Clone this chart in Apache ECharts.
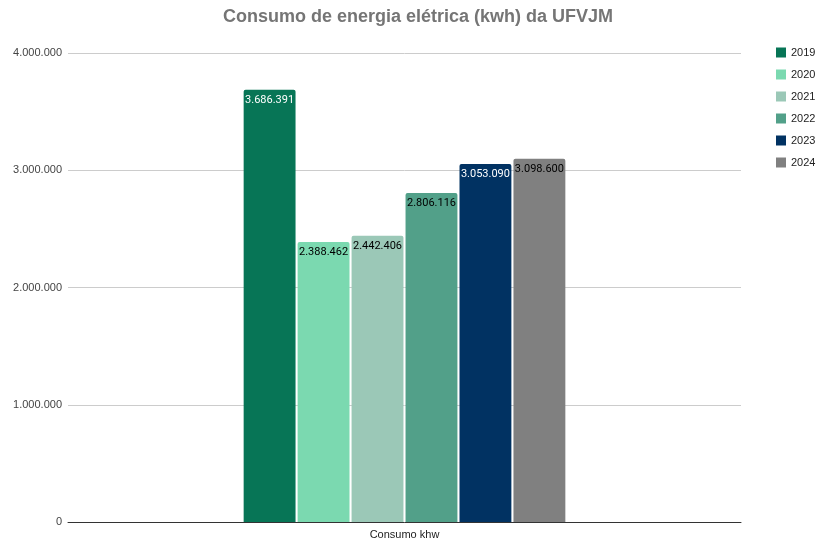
<!DOCTYPE html>
<html><head><meta charset="utf-8">
<script src="https://cdn.jsdelivr.net/npm/echarts@6/dist/echarts.min.js"></script>
<style>html,body{margin:0;padding:0;background:#fff}#c{width:818px;height:541px}</style>
</head><body><div id="c"></div>
<script>
var categories = ['Consumo khw'];
var years = ['2019','2020','2021','2022','2023','2024'];
var values = [3686391, 2388462, 2442406, 2806116, 3053090, 3098600];
var colors = ['#077556','#7bd9b0','#9bc8b7','#52a089','#013262','#808080'];
var labelColors = ['#ffffff','#000000','#000000','#000000','#ffffff','#000000'];
var yTicks = [0, 1000000, 2000000, 3000000, 4000000];

function fmt(v){ return String(Math.round(v)).replace(/\B(?=(\d{3})+(?!\d))/g, '.'); }

var chart = echarts.init(document.getElementById('c'), null, {renderer:'canvas'});
var series = years.map(function(y, i){
  return {
    name: y, type: 'bar', data: [values[i]],
    barGap: '4%', barCategoryGap: '52.2%',
    itemStyle: {color: colors[i], borderRadius: [2,2,0,0]},
    label: {show: true, position: 'insideTop', distance: 5, color: labelColors[i],
      fontFamily: 'Roboto', fontSize: 11, formatter: function(p){ return fmt(p.value); }}
  };
});
chart.setOption({
  animation: false,
  title: {text: 'Consumo de energia elétrica (kwh) da UFVJM', left: 218, top: 3,
    textStyle: {fontFamily: 'Liberation Sans, Arial', fontSize: 18, fontWeight: 'bold', color: '#757575'}},
  legend: {orient: 'vertical', left: 771, top: 42, itemWidth: 10, itemHeight: 10, itemGap: 11,
    icon: 'rect', textStyle: {fontFamily: 'Liberation Sans, Arial', fontSize: 11, color: '#222'}},
  grid: {left: 68, right: 77, top: 53, bottom: 19},
  xAxis: {type: 'category', data: categories,
    axisLine: {lineStyle: {color: '#333', width: 1}}, axisTick: {show: false},
    axisLabel: {fontFamily: 'Liberation Sans, Arial', fontSize: 11, color: '#222', margin: 7}},
  yAxis: {type: 'value', min: yTicks[0], max: yTicks[yTicks.length-1], interval: 1000000,
    axisLine: {show: false}, axisTick: {show: false},
    splitLine: {lineStyle: {color: '#cccccc'}},
    axisLabel: {fontFamily: 'Liberation Sans, Arial', fontSize: 11, color: '#444', margin: 6, formatter: fmt}},
  series: series
});
</script></body></html>
